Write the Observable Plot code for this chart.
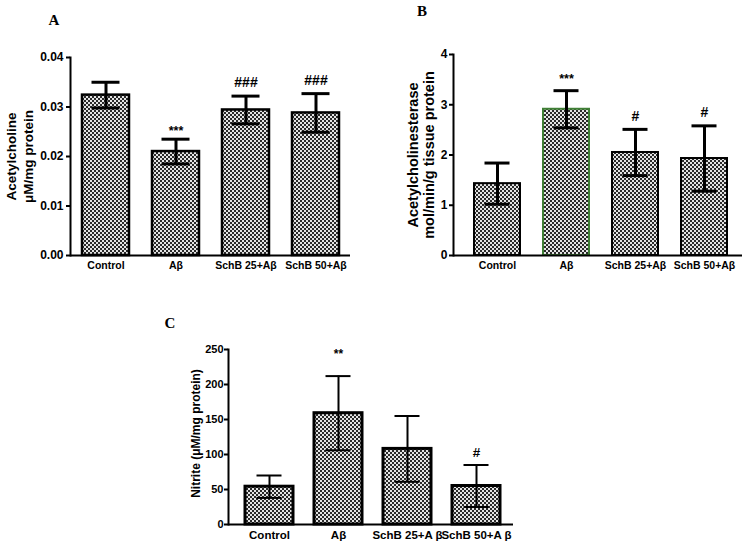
<!DOCTYPE html>
<html>
<head>
<meta charset="utf-8">
<script src="https://cdn.jsdelivr.net/npm/d3@7"></script>
<script src="https://cdn.jsdelivr.net/npm/@observablehq/plot@0.6"></script>
<style>
  body { margin: 0; background: #fff; }
  #wrap { position: relative; width: 747px; height: 546px; overflow: hidden; background: #fff; }
  .panel { position: absolute; }
  .title { position: absolute; font-family: "Liberation Serif", "Times New Roman", serif; font-weight: bold; font-size: 15px; line-height: 1; transform: translate(-50%, -50%); color: #000; }
</style>
</head>
<body>
<svg width="0" height="0" style="position:absolute">
  <defs>
    <pattern id="check" width="4" height="4" patternUnits="userSpaceOnUse">
      <rect width="4" height="4" fill="#e4e4e4"/>
      <rect width="2" height="2" fill="#2a2a2a"/>
      <rect x="2" y="2" width="2" height="2" fill="#2a2a2a"/>
    </pattern>
  </defs>
</svg>
<div id="wrap">
  <div class="panel" id="pA" style="left:0px;top:0px;width:370px;height:280px"></div>
  <div class="panel" id="pB" style="left:370px;top:0px;width:377px;height:280px"></div>
  <div class="panel" id="pC" style="left:140px;top:290px;width:400px;height:256px"></div>
  <div class="title" style="left:54px;top:20px">A</div>
  <div class="title" style="left:422px;top:11px">B</div>
  <div class="title" style="left:170px;top:323px">C</div>
</div>
<script>
// ---- data ----
const groups  = ["Control", "Aβ", "SchB 25+Aβ", "SchB 50+Aβ"];
const groupsC = ["Control", "Aβ", "SchB 25+A β", "SchB 50+A β"];

const achMean = [0.0324, 0.0210, 0.0294, 0.0288];
const achSem  = [0.0026, 0.0025, 0.0028, 0.0039];
const achSig  = ["", "***", "###", "###"];
const ticksA  = [0, 0.01, 0.02, 0.03, 0.04];

const acheMean = [1.43, 2.91, 2.05, 1.93];
const acheSem  = [0.41, 0.37, 0.46, 0.65];
const acheSig  = ["", "***", "#", "#"];
const ticksB   = [0, 1, 2, 3, 4];

const nitMean = [54, 159, 108, 55];
const nitSem  = [16, 53, 47, 30];
const nitSig  = ["", "**", "", "#"];
const ticksC  = [0, 50, 100, 150, 200, 250];

const FONT = "'Liberation Sans', Arial, Helvetica, sans-serif";

function panel(o) {
  const rows = o.cats.map((c, i) => ({
    cat: c, mean: o.mean[i], lo: o.mean[i] - o.sem[i], hi: o.mean[i] + o.sem[i], sig: o.sig[i]
  }));
  const stars = rows.filter(d => d.sig.startsWith("*"));
  const hashes = rows.filter(d => d.sig.startsWith("#"));
  return Plot.plot({
    width: o.width, height: o.height,
    marginLeft: o.ml, marginRight: o.mr, marginTop: o.mt, marginBottom: o.mb,
    x: {domain: o.cats, paddingInner: o.pi, paddingOuter: o.po, align: o.align},
    y: {domain: o.ydomain},
    style: {fontFamily: FONT, color: "#000", background: "transparent", overflow: "visible"},
    marks: [
      Plot.barY(rows, {
        x: "cat", y: "mean", fill: "url(#check)",
        stroke: d => (o.highlight && d.cat === o.highlight) ? "#3f7f35" : "#000",
        strokeWidth: o.barW
      }),
      Plot.ruleX(rows, {x: "cat", y1: "lo", y2: "hi", stroke: "#000", strokeWidth: o.errW}),
      Plot.tickY(rows, {x: "cat", y: "hi", stroke: "#000", strokeWidth: o.errW, insetLeft: o.capInset, insetRight: o.capInset}),
      Plot.tickY(rows, {x: "cat", y: "lo", stroke: "#000", strokeWidth: o.errW, insetLeft: o.capInset, insetRight: o.capInset}),
      Plot.ruleY([0], {stroke: "#000", strokeWidth: 2}),
      Plot.frame({anchor: "left", stroke: "#000", strokeWidth: 2}),
      Plot.axisY({ticks: o.ticks, tickFormat: o.fmt, tickSize: o.tickSize, tickPadding: o.tickPad,
        fontSize: o.tickFont, fontWeight: "bold", strokeWidth: 2, label: null}),
      Plot.axisX({tickSize: 0, tickPadding: 6, fontSize: o.xFont, fontWeight: "bold", label: null}),
      Plot.text(stars, {x: "cat", y: "hi", text: "sig", dy: o.starDy, fontSize: o.sigFont, fontWeight: "bold"}),
      Plot.text(hashes, {x: "cat", y: "hi", text: "sig", dy: o.hashDy, fontSize: o.hashFont, fontWeight: "bold"}),
      Plot.text([o.yLabel], {text: d => d, frameAnchor: "left", textAnchor: "middle", lineAnchor: "middle",
        rotate: -90, dx: o.labelDx, dy: o.labelDy || 0,
        fontSize: o.labelSize, fontWeight: "bold", lineHeight: o.lineHeight})
    ]
  });
}

document.getElementById("pA").appendChild(panel({
  cats: groups, mean: achMean, sem: achSem, sig: achSig, ticks: ticksA, fmt: d3.format(".2f"),
  ydomain: [0, 0.04], width: 370, height: 280, ml: 70, mr: 20, mt: 57, mb: 25,
  pi: 0.33, po: 0.164, align: 0.5, barW: 2.5, errW: 3, capInset: 9.5,
  tickSize: 4, tickPad: 3, tickFont: 12, xFont: 10.5, sigFont: 12.5, hashFont: 14, starDy: -8, hashDy: -13.5,
  yLabel: "Acetylcholine\nμM/mg protein", labelDx: -51.5, labelSize: 13.5, lineHeight: 1.26
}));

document.getElementById("pB").appendChild(panel({
  cats: groups, mean: acheMean, sem: acheSem, sig: acheSig, ticks: ticksB, fmt: d3.format("d"),
  ydomain: [0, 4], width: 377, height: 280, ml: 83, mr: 5, mt: 54, mb: 25,
  pi: 0.33, po: 0.236, align: 0.58, barW: 2, errW: 3, capInset: 10.5,
  tickSize: 4, tickPad: 2, tickFont: 12, xFont: 10.5, sigFont: 12.5, hashFont: 14, starDy: -12, hashDy: -13,
  yLabel: "Acetylcholinesterase\nmol/min/g tissue protein", labelDx: -33, labelSize: 14.5, lineHeight: 1.1,
  highlight: "Aβ"
}));

document.getElementById("pC").appendChild(panel({
  cats: groupsC, mean: nitMean, sem: nitSem, sig: nitSig, ticks: ticksC, fmt: d3.format("d"),
  ydomain: [0, 250], width: 400, height: 256, ml: 88, mr: 27, mt: 59, mb: 22,
  pi: 0.31, po: 0.205, align: 0.57, barW: 3, errW: 2, capInset: 11.5,
  tickSize: 4, tickPad: 1, tickFont: 11, xFont: 11.5, sigFont: 12, hashFont: 13.5, starDy: -22, hashDy: -12,
  yLabel: "Nitrite (μM/mg protein)", labelDx: -33, labelDy: -3.5, labelSize: 12, lineHeight: 1.1
}));
</script>
</body>
</html>
